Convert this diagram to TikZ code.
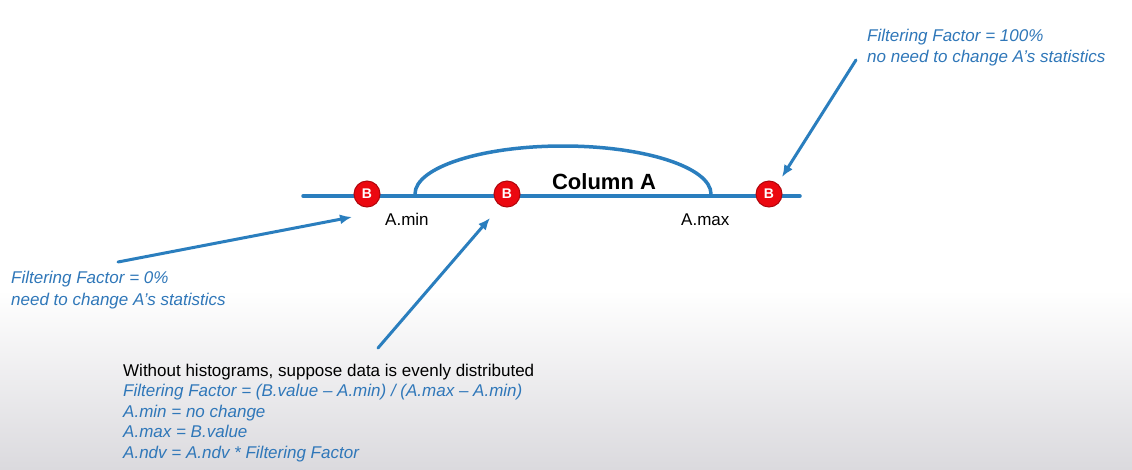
\documentclass[tikz,border=0pt]{standalone}
\usepackage{fontspec}
\setmainfont{Liberation Sans}
\usetikzlibrary{arrows.meta}

\begin{document}
\begin{tikzpicture}[x=1pt,y=-1pt,line cap=round]
  % Colors
  \definecolor{linecolor}{RGB}{42,126,190}
  \definecolor{notecolor}{RGB}{47,119,185}
  \definecolor{ballcolor}{RGB}{235,8,16}
  \definecolor{floorcolor}{RGB}{219,218,222}

  % Styles
  \tikzstyle{axis line}=[linecolor,line width=3.5pt]
  \tikzstyle{pointer}=[linecolor,line width=3pt,-{Latex[length=12pt,width=10pt]}]
  \tikzstyle{ball}=[circle,fill=ballcolor,draw=ballcolor!75!black,line width=1pt,
    minimum size=26pt,inner sep=0pt,text=white,font=\fontsize{14}{14}\selectfont\bfseries]
  \tikzstyle{note}=[notecolor,font=\fontsize{17}{20.5}\selectfont\itshape,align=left,inner sep=0pt]
  \tikzstyle{bound label}=[font=\fontsize{17}{17}\selectfont,inner sep=0pt,anchor=base west]

  % Background
  \useasboundingbox (0,0) rectangle (1132,469);
  \fill[white] (0,0) rectangle (1132,469);
  \shade[top color=white,bottom color=floorcolor] (0,290) rectangle (1132,469);

  % The graphic
  \draw[style=axis line] (303,196) -- (800,196);
  \draw[style=axis line] (415,194) arc [x radius=148, y radius=48, start angle=180, end angle=360];

  \node[font=\fontsize{22}{22}\selectfont\bfseries,anchor=base] (col) at (604,189) {Column A};
  \node[style=bound label] (amin) at (385,225) {A.min};
  \node[style=bound label] (amax) at (681,225) {A.max};

  \node[style=ball] (bmin) at (367,194) {B};
  \node[style=ball] (bmid) at (507,194) {B};
  \node[style=ball] (bmax) at (769,194) {B};

  % Notes (base = last line)
  \node[style=note,anchor=base west,font=\fontsize{17}{21}\selectfont\itshape] (hundred) at (867,62)
    {Filtering Factor = 100\%\\no need to change A’s statistics};
  \node[style=note,anchor=base west,font=\fontsize{17}{22}\selectfont\itshape] (zero) at (11,305)
    {Filtering Factor = 0\%\\need to change A’s statistics};
  \node[style=note,anchor=base west] (middle) at (123,458)
    {{\upshape\color{black}Without histograms, suppose data is evenly distributed}\\
     Filtering Factor = (B.value – A.min) / (A.max – A.min)\\
     A.min = no change\\
     A.max = B.value\\
     A.ndv = A.ndv * Filtering Factor};

  % Pointers
  \coordinate (zero tail) at (118,262);
  \coordinate (zero tip) at (352,217);
  \coordinate (middle tail) at (378,348);
  \coordinate (middle tip) at (490,218);
  \coordinate (hundred tail) at (856,60);
  \coordinate (hundred tip) at (782,177);

  \draw[style=pointer] (zero tail) -- (zero tip);
  \draw[style=pointer] (middle tail) -- (middle tip);
  \draw[style=pointer] (hundred tail) -- (hundred tip);
\end{tikzpicture}
\end{document}
